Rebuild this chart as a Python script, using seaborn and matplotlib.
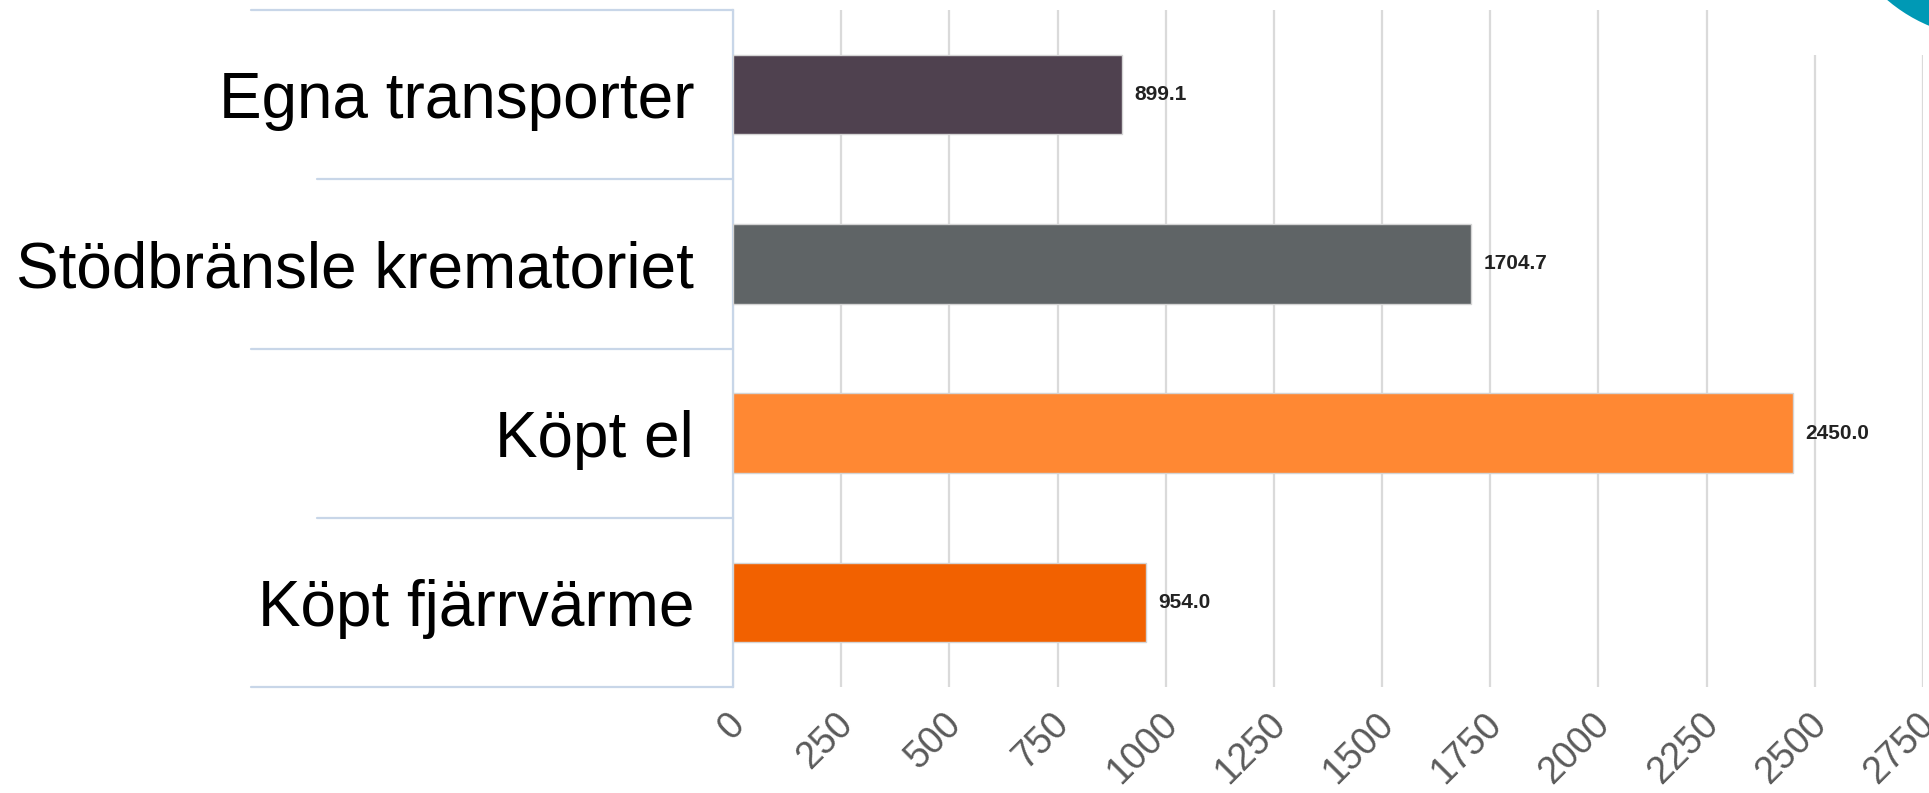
import matplotlib
matplotlib.use('Agg')
import matplotlib.pyplot as plt
import matplotlib.transforms as mtransforms
from matplotlib.patches import Ellipse, Rectangle
import seaborn as sns
import pandas as pd

# data
categories = ['Egna transporter', 'Stödbränsle krematoriet', 'Köpt el', 'Köpt fjärrvärme']
values     = [899.1, 1704.7, 2450.0, 954.0]
colors     = ['#4f414f', '#5f6466', '#ff8833', '#f26100']
xticks     = [0, 250, 500, 750, 1000, 1250, 1500, 1750, 2000, 2250, 2500, 2750]

sns.set_theme(style='white')
plt.rcParams['font.family'] = ['Liberation Sans', 'DejaVu Sans']

W, H = 1929, 793
fig = plt.figure(figsize=(W/100, H/100), dpi=100)
ax = fig.add_axes([733/W, 1-687/H, (1923-733)/W, (687-10)/H])

df = pd.DataFrame({'cat': categories, 'val': values})
sns.barplot(data=df, x='val', y='cat', hue='cat', palette=colors, order=categories,
            orient='h', width=0.47, saturation=1, legend=False,
            edgecolor='#d4d4d4', linewidth=1.0, ax=ax, zorder=3)

for cont in ax.containers:
    ax.bar_label(cont, fmt='%.1f', padding=9, fontsize=15, fontweight='bold', color='#222222')

ax.set_xlim(0, 2750)
ax.set_ylim(3.5, -0.5)
ax.set_xticks(xticks)
ax.set_xticklabels([str(t) for t in xticks])
ax.set_xlabel('')
ax.set_ylabel('')

ax.xaxis.grid(True, color='#dadada', linewidth=1.6, zorder=0)
ax.yaxis.grid(False)
ax.set_axisbelow(True)
for s in ['top', 'right', 'bottom']:
    ax.spines[s].set_visible(False)
ax.spines['left'].set_color('#c8d6e8')
ax.spines['left'].set_linewidth(1.6)

ax.tick_params(axis='y', length=0, pad=28, labelsize=46, labelcolor='black')
ax.tick_params(axis='x', length=0, pad=23, labelsize=27, labelcolor='#5a5a5a')
shift = mtransforms.ScaledTranslation(6/100, 0, fig.dpi_scale_trans)
for lbl in ax.get_xticklabels():
    lbl.set_rotation(45)
    lbl.set_ha('right')
    lbl.set_va('center')
    lbl.set_rotation_mode('anchor')
    lbl.set_transform(lbl.get_transform() + shift)

# category separator lines reaching into the label area
trans = mtransforms.blended_transform_factory(ax.transAxes, ax.transData)
for yb, xs in zip([-0.5, 0.5, 1.5, 2.5, 3.5], [-0.405, -0.35, -0.405, -0.35, -0.405]):
    ax.plot([xs, 0], [yb, yb], transform=trans, color='#c8d6e8', linewidth=1.6,
            clip_on=False, zorder=4)

# top right corner: blank area and blue decoration
fig.patches.append(Rectangle((1760/W, 1-55/H), 169/W, 55/H, transform=fig.transFigure,
                             facecolor='white', edgecolor='none', zorder=5))
fig.patches.append(Ellipse((1990/W, 1+120/H), 316/W, 316/H, transform=fig.transFigure,
                           facecolor='#0099b5', edgecolor='none', zorder=6))

plt.savefig('out.png', dpi=100)
plt.close()
